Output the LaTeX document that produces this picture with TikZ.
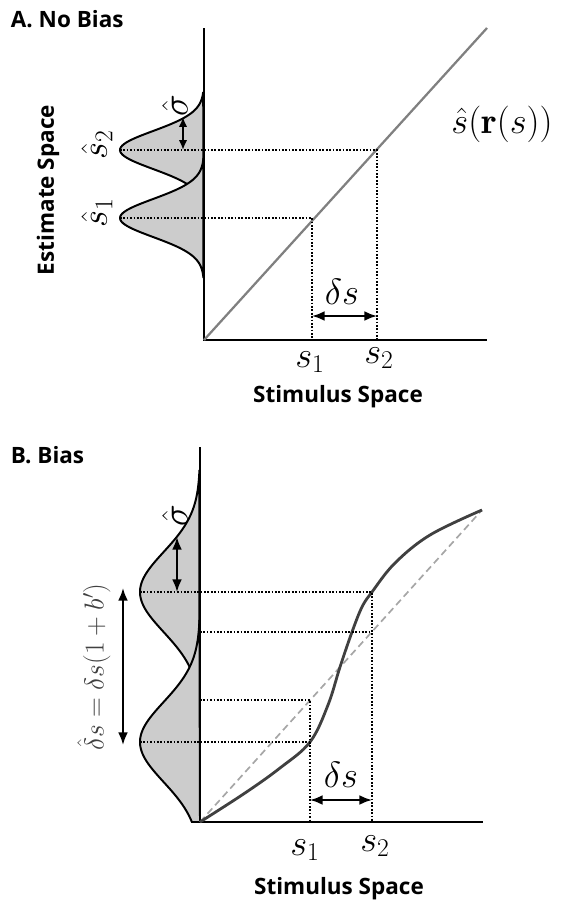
\documentclass[tikz,border=0pt]{standalone}
\usepackage{fix-cm}
\usepackage{fontspec}
\setsansfont{Open Sans}
\usetikzlibrary{arrows.meta}

\begin{document}
\begin{tikzpicture}[x=0.025cm,y=-0.025cm,
  heading/.style={font=\fontsize{16}{19}\selectfont\sffamily\bfseries},
  mlabel/.style={font=\fontsize{26}{30}\selectfont},
  axis/.style={line width=1.4pt},
  guide/.style={line width=1.2pt,dash pattern=on 1.2pt off 1.2pt},
  bell/.style={line width=1.4pt,fill=gray!40},
  span/.style={line width=1.4pt,{Latex[length=9pt,width=7pt]}-{Latex[length=9pt,width=7pt]}}]
\useasboundingbox (0,0) rectangle (561,902);

% A) No bias
\node[heading,anchor=west] (titleA) at (6,19) {A. No Bias};
\filldraw[bell] plot[domain=92:210,samples=80,variable=\t] ({204-84*exp(-((\t-150)^2)/722)},\t) -- cycle;
\filldraw[bell] plot[domain=158:278,samples=80,variable=\t] ({204-84*exp(-((\t-218)^2)/722)},\t) -- cycle;
\draw[axis] (204,28) -- (204,340) -- (487,340);
\draw[gray,line width=1.6pt] (204,340) -- (487,28);
\draw[guide] (120,150) -- (377,150) -- (377,340);
\draw[guide] (120,218) -- (312,218) -- (312,340);
\draw[span,{Latex[length=7pt,width=6pt]}-{Latex[length=7pt,width=6pt]}] (183,117) -- (183,150);
\draw[span] (312,316) -- (377,316);
\node[mlabel] (dsA) at (342,292) {$\delta s$};
\node[mlabel] (s1A) at (310,362) {$s_1$};
\node[mlabel] (s2A) at (379,358) {$s_2$};
\node[mlabel] (curveA) at (502,124) {$\hat{s}(\mathbf{r}(s))$};
\node[mlabel,rotate=90] (hs2A) at (97,145) {$\hat{s}_2$};
\node[mlabel,rotate=90] (hs1A) at (97,213) {$\hat{s}_1$};
\node[mlabel,rotate=90] (sigA) at (175,106) {$\hat{\sigma}$};
\node[heading] (xA) at (338,397) {Stimulus Space};
\node[heading,rotate=90] (yA) at (48,190) {Estimate Space};

% B) Bias
\node[heading,anchor=west] (titleB) at (6,455) {B. Bias};
\filldraw[bell] plot[domain=470:714,samples=100,variable=\t] ({200-60*exp(-((\t-592)^2)/3200)},\t) -- cycle;
\filldraw[bell] plot[domain=620:822,samples=100,variable=\t] ({200-60*exp(-((\t-742)^2)/3200)},\t) -- (200,822) -- cycle;
\draw[axis] (200,447) -- (200,822) -- (483,822);
\draw[gray!70,line width=1.2pt,dash pattern=on 5pt off 3pt] (200,822) -- (482,510);
\draw[black!75,line width=2pt] plot[smooth,tension=0.6] coordinates {(200,822) (245,793) (280,768) (310,742) (328,705) (340,667) (352,632) (362,607) (372,592) (395,563) (430,535) (482,510)};
\draw[guide] (140,592) -- (372,592) -- (372,822);
\draw[guide] (200,632) -- (372,632);
\draw[guide] (200,700) -- (310,700) -- (310,822);
\draw[guide] (140,742) -- (310,742);
\draw[span] (177,537) -- (177,592);
\draw[span] (123,588) -- (123,745);
\draw[span] (310,800) -- (372,800);
\node[mlabel] (dsB) at (341,775) {$\delta s$};
\node[mlabel] (s1B) at (305,850) {$s_1$};
\node[mlabel] (s2B) at (375,846) {$s_2$};
\node[mlabel,rotate=90] (sigB) at (175,516) {$\hat{\sigma}$};
\node[font=\fontsize{19.5}{23}\selectfont,text=black!75,rotate=90] (shiftB) at (94,667) {$\hat{\delta}s = \delta s(1+b')$};
\node[heading] (xB) at (339,889) {Stimulus Space};
\end{tikzpicture}
\end{document}
